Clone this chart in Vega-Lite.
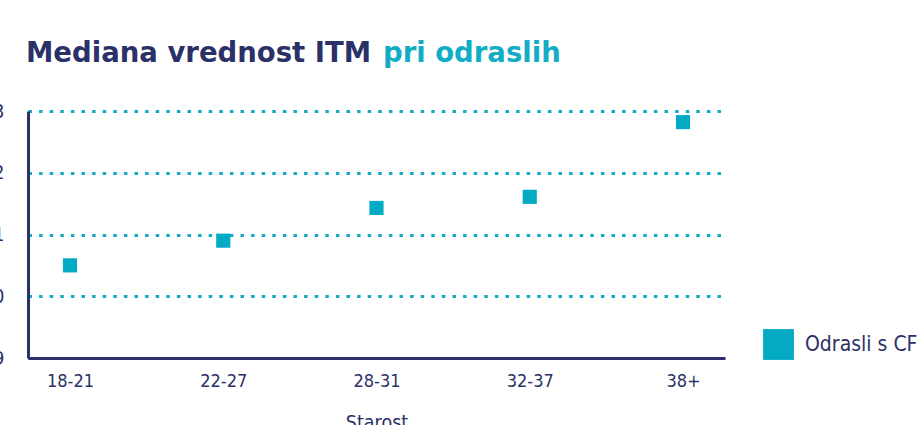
{
  "$schema": "https://vega.github.io/schema/vega-lite/v6.json",
  "width": 697,
  "height": 247,
  "autosize": {"type": "none"},
  "padding": {"left": 28, "top": 111, "right": 197, "bottom": 67},
  "background": "white",
  "title": {
    "text": "Mediana vrednost ITM",
    "subtitle": "\u200b\u00a0\u00a0\u00a0\u00a0\u00a0\u00a0\u00a0\u00a0\u00a0\u00a0\u00a0\u00a0\u00a0\u00a0\u00a0\u00a0\u00a0\u00a0\u00a0\u00a0\u00a0\u00a0\u00a0\u00a0\u00a0\u00a0\u00a0\u00a0\u00a0\u00a0\u00a0\u00a0\u00a0\u00a0\u00a0\u00a0\u00a0\u200apri odraslih",
    "anchor": "start",
    "frame": "group",
    "font": "DejaVu Sans",
    "fontSize": 27.5,
    "fontWeight": "bold",
    "color": "#2a3068",
    "subtitleFont": "DejaVu Sans",
    "subtitleFontSize": 27.5,
    "subtitleFontWeight": "bold",
    "subtitleColor": "#12adc5",
    "subtitlePadding": -27.5,
    "offset": 35,
    "dx": -2
  },
  "data": {
    "values": [
      {"starost": "18-21", "itm": 20.5, "skupina": "Odrasli s CF"},
      {"starost": "22-27", "itm": 20.9, "skupina": "Odrasli s CF"},
      {"starost": "28-31", "itm": 21.43, "skupina": "Odrasli s CF"},
      {"starost": "32-37", "itm": 21.61, "skupina": "Odrasli s CF"},
      {"starost": "38+", "itm": 22.82, "skupina": "Odrasli s CF"}
    ]
  },
  "mark": {"type": "point", "shape": "square", "filled": true, "size": 200, "opacity": 1},
  "encoding": {
    "x": {
      "field": "starost",
      "type": "ordinal",
      "sort": null,
      "scale": {"type": "point", "padding": 0.274},
      "axis": {
        "title": "Starost",
        "labelAngle": 0,
        "domainColor": "#2a3068",
        "domainWidth": 3,
        "ticks": false,
        "grid": false,
        "labelFont": "DejaVu Sans Condensed, DejaVu Sans",
        "labelFontSize": 18,
        "labelColor": "#2a3068",
        "labelPadding": 14,
        "titleFont": "DejaVu Sans Condensed, DejaVu Sans",
        "titleFontSize": 19.5,
        "titleFontWeight": "normal",
        "titleColor": "#2a3068",
        "titlePadding": 23
      }
    },
    "y": {
      "field": "itm",
      "type": "quantitative",
      "scale": {"domain": [19, 23], "nice": false, "zero": false},
      "axis": {
        "title": null,
        "values": [19, 20, 21, 22, 23],
        "format": "d",
        "domainColor": "#2a3068",
        "domainWidth": 3,
        "ticks": false,
        "grid": true,
        "gridColor": "#12adc5",
        "gridWidth": 3,
        "gridDash": [3.5, 7.1],
        "labelFont": "DejaVu Sans Condensed, DejaVu Sans",
        "labelFontSize": 19,
        "labelColor": "#2a3068",
        "labelPadding": 24
      }
    },
    "color": {
      "field": "skupina",
      "type": "nominal",
      "scale": {"domain": ["Odrasli s CF"], "range": ["#03aac3"]},
      "legend": {
        "title": null,
        "orient": "none",
        "legendX": 735,
        "legendY": 218,
        "padding": 0,
        "symbolType": "square",
        "symbolSize": 950,
        "symbolStrokeWidth": 0,
        "labelFont": "DejaVu Sans Condensed, DejaVu Sans",
        "labelFontSize": 21,
        "labelColor": "#2a3068",
        "labelOffset": 11,
        "labelLimit": 300
      }
    }
  },
  "config": {
    "view": {"stroke": null}
  }
}
